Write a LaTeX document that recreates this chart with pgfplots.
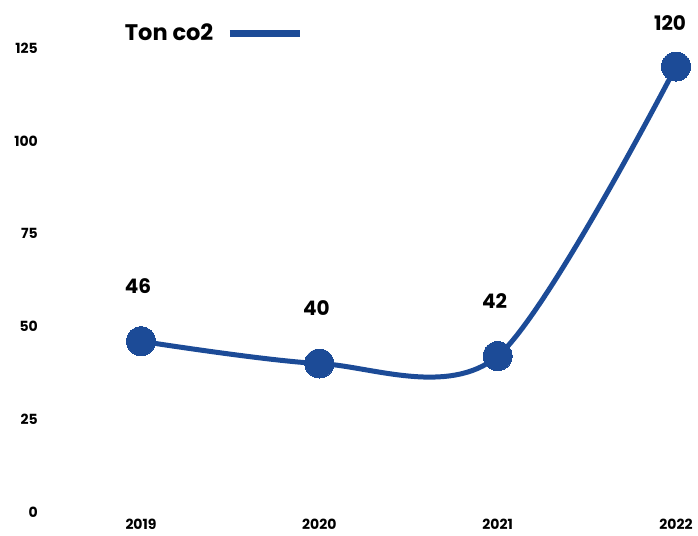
\documentclass[border=0pt]{standalone}
\usepackage{pgfplots}
\pgfplotsset{compat=1.18}
\usepackage{fontspec}
\setmainfont{Poppins}
\definecolor{co2blue}{HTML}{1C4B97}
\begin{document}
\begin{tikzpicture}
\path[use as bounding box] (-141pt,-23pt) rectangle (557pt,512pt);
\begin{axis}[
  at={(0pt,0pt)}, anchor=south west,
  scale only axis, width=535pt, height=464pt,
  xmin=0, xmax=3, ymin=0, ymax=125,
  clip=false,
  axis line style={draw=none},
  major tick length=0pt,
  xtick={0,1,2,3}, xticklabels={2019,2020,2021,2022},
  ytick={0,25,50,75,100,125},
  ticklabel style={font=\bfseries\fontsize{14}{14}\selectfont},
  xticklabel style={inner sep=0pt, anchor=north, yshift=-7pt},
  yticklabel style={inner sep=0pt, anchor=east, xshift=-103pt},
  /pgf/number format/assume math mode=true,
  legend plot pos=right,
  legend style={draw=none, fill=none, at={(-0.03,1.032)}, anchor=west,
    inner sep=0pt, outer sep=0pt, column sep=13pt,
    font=\bfseries\fontsize{22.5}{22.5}\selectfont, nodes={inner sep=0pt}},
]
\addplot[co2blue, line width=5pt, smooth, mark=*, mark size=14.5pt,
  mark options={solid, line width=0pt},
  legend image code/.code={\draw[co2blue, line width=7pt] (0pt,0pt) -- (70pt,0pt);}]
  coordinates {(0,46)(1,40)(2,42)(3,120)};
\addlegendentry{Ton co2}
\addplot[draw=none, mark=none, forget plot, nodes near coords,
  nodes near coords style={anchor=center, yshift=55pt, xshift=-3pt,
    font=\bfseries\fontsize{20}{20}\selectfont, text=black}]
  coordinates {(0,46)(1,40)(2,42)};
\addplot[draw=none, mark=none, forget plot, nodes near coords,
  nodes near coords style={anchor=center, yshift=44pt, xshift=-6pt,
    font=\bfseries\fontsize{20}{20}\selectfont, text=black}]
  coordinates {(3,120)};
\end{axis}
\end{tikzpicture}
\end{document}
